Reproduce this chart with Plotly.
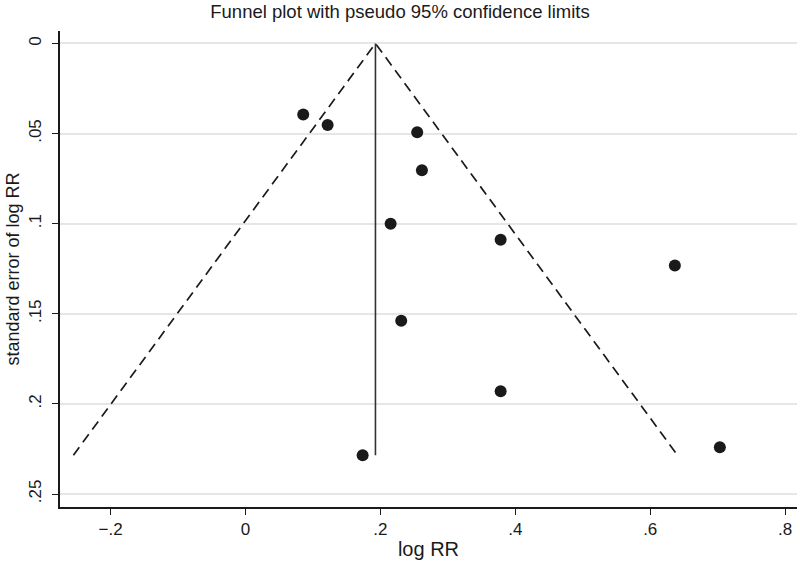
import plotly.graph_objects as go

# Study data
log_rr = [0.0855, 0.1217, 0.2545, 0.2615, 0.2151, 0.3782, 0.6365, 0.2308, 0.3782, 0.1736, 0.7032]
se_log_rr = [0.0394, 0.0452, 0.0493, 0.0704, 0.100, 0.1089, 0.1232, 0.1539, 0.193, 0.2285, 0.224]

pooled = 0.1926
z = 1.96
se_max = max(se_log_rr)

x_tickvals = [-0.2, 0, 0.2, 0.4, 0.6, 0.8]
x_ticktext = ["\u2212.2", "0", ".2", ".4", ".6", ".8"]
y_tickvals = [0, 0.05, 0.1, 0.15, 0.2, 0.25]
y_ticktext = ["0", ".05", ".1", ".15", ".2", ".25"]

font_family = "Liberation Sans, Arial, sans-serif"
ink = "#1a1a1a"

fig = go.Figure()

# Pseudo 95% confidence limits
fig.add_trace(go.Scatter(
    x=[pooled - z * se_max, pooled, pooled + z * se_max],
    y=[se_max, 0, se_max],
    mode="lines",
    line=dict(color=ink, width=1.7, dash="10px,6px"),
    hoverinfo="skip",
    showlegend=False,
))

# Pooled estimate line
fig.add_trace(go.Scatter(
    x=[pooled, pooled],
    y=[0, se_max],
    mode="lines",
    line=dict(color="#333333", width=1.6),
    hoverinfo="skip",
    showlegend=False,
))

# Studies
fig.add_trace(go.Scatter(
    x=log_rr,
    y=se_log_rr,
    mode="markers",
    marker=dict(color=ink, size=12, line=dict(width=0)),
    showlegend=False,
))

fig.update_layout(
    width=800,
    height=566,
    margin=dict(l=60, r=3, t=31, b=59, autoexpand=False),
    paper_bgcolor="white",
    plot_bgcolor="white",
    font=dict(family=font_family, color=ink, size=18),
    title=dict(
        text="Funnel plot with pseudo 95% confidence limits",
        x=0.5, xref="container", xanchor="center",
        y=1 - 12 / 566, yref="container", yanchor="middle",
        pad=dict(t=0, b=0),
        font=dict(family=font_family, size=18.5, color=ink),
    ),
    xaxis=dict(
        range=[-0.2751, 0.8176],
        tickvals=x_tickvals,
        ticktext=x_ticktext,
        showgrid=False,
        zeroline=False,
        showline=True,
        linecolor=ink,
        linewidth=1.5,
        ticks="outside",
        ticklen=6,
        tickcolor=ink,
        tickwidth=1.2,
        tickfont=dict(size=17),
        automargin=False,
        title=dict(text="log RR", font=dict(size=20), standoff=4),
    ),
    yaxis=dict(
        range=[0.2572, -0.0069],
        tickvals=y_tickvals,
        ticktext=y_ticktext,
        tickangle=-90,
        ticklabelstandoff=4,
        showgrid=True,
        gridcolor="#e6e6e6",
        gridwidth=1.5,
        zeroline=False,
        showline=True,
        linecolor=ink,
        linewidth=1.5,
        ticks="outside",
        ticklen=6,
        tickcolor=ink,
        tickwidth=1.2,
        tickfont=dict(size=17),
        automargin=False,
        title=dict(text="standard error of log RR", font=dict(size=18), standoff=2),
    ),
)

fig.write_html(
    "out.html",
    config={"displayModeBar": False},
    post_script="document.body.style.margin='0';",
)
